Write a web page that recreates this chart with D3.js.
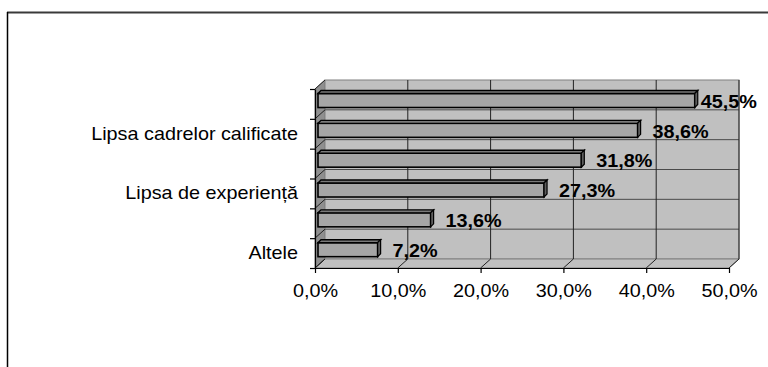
<!DOCTYPE html>
<html>
<head>
<meta charset="utf-8">
<script src="https://cdn.jsdelivr.net/npm/d3@7/dist/d3.min.js"></script>
<style>
  html, body { margin: 0; padding: 0; background: #fff; }
  svg { display: block; font-family: "Liberation Sans", Arial, sans-serif; }
</style>
</head>
<body>
<div id="chart"></div>
<script>
// Categories, top to bottom (Excel only printed every other label)
const categories = ['', 'Lipsa cadrelor calificate', '', 'Lipsa de experiență', '', 'Altele'];
const values = [45.5, 38.6, 31.8, 27.3, 13.6, 7.2];
const xTicks = [0, 10, 20, 30, 40, 50];

const width = 768;
const height = 367;
const DX = 10, DY = -9;      // depth of the 3D walls
const BDX = 3, BDY = -3;     // depth of the bars
const TEXT_SX = 1.1;         // horizontal stretch of the original text

const fmt = v => d3.format('.1f')(v).replace('.', ',') + '%';

const svg = d3.select('#chart')
  .append('svg')
  .attr('width', width)
  .attr('height', height);

// outer frame (runs off the right and bottom edges)
svg.append('line')
  .attr('x1', 7).attr('x2', width).attr('y1', 12.5).attr('y2', 12.5)
  .attr('stroke', '#3a3a3a').attr('stroke-width', 2);
svg.append('line')
  .attr('x1', 7.5).attr('x2', 7.5).attr('y1', 12).attr('y2', height)
  .attr('stroke', '#000').attr('stroke-width', 1.5);

const x = d3.scaleLinear().domain([0, 50]).range([315, 729]);
const y = d3.scaleBand().domain(d3.range(values.length)).range([89, 268]);
const yEdge = d3.scaleLinear().domain([0, values.length]).range([89, 268]);

const x0 = x(0), x1 = x(50);
const yTop = yEdge(0), yBottom = yEdge(values.length);

const walls = svg.append('g').attr('class', 'walls');

// left wall
walls.append('path')
  .attr('d', `M${x0},${yTop}L${x0 + DX},${yTop + DY}L${x0 + DX},${yBottom + DY}L${x0},${yBottom}Z`)
  .attr('fill', '#8f8f8f').attr('stroke', '#808080');

// back wall
walls.append('rect')
  .attr('x', x0 + DX).attr('y', yTop + DY)
  .attr('width', x1 - x0).attr('height', yBottom - yTop)
  .attr('fill', '#c0c0c0').attr('stroke', '#808080');

// floor
walls.append('path')
  .attr('d', `M${x0},${yBottom}L${x0 + DX},${yBottom + DY}L${x1 + DX},${yBottom + DY}L${x1},${yBottom}Z`)
  .attr('fill', '#c0c0c0').attr('stroke', '#808080');

// horizontal gridlines at category boundaries (back wall + left wall)
const edges = d3.range(values.length + 1);
walls.selectAll('line.hgrid')
  .data(edges.slice(1, -1))
  .enter().append('line')
  .attr('class', 'hgrid')
  .attr('x1', x0 + DX).attr('x2', x1 + DX)
  .attr('y1', d => yEdge(d) + DY).attr('y2', d => yEdge(d) + DY)
  .attr('stroke', '#4a4a4a').attr('stroke-width', 1);
walls.selectAll('line.lwall')
  .data(edges)
  .enter().append('line')
  .attr('class', 'lwall')
  .attr('x1', x0).attr('x2', x0 + DX)
  .attr('y1', d => yEdge(d)).attr('y2', d => yEdge(d) + DY)
  .attr('stroke', '#222').attr('stroke-width', 1);

// vertical gridlines (back wall + floor)
walls.selectAll('line.vgrid')
  .data(xTicks.slice(1))
  .enter().append('line')
  .attr('class', 'vgrid')
  .attr('x1', d => x(d) + DX).attr('x2', d => x(d) + DX)
  .attr('y1', yTop + DY).attr('y2', yBottom + DY)
  .attr('stroke', '#222').attr('stroke-width', 1);
walls.selectAll('line.fgrid')
  .data(xTicks)
  .enter().append('line')
  .attr('class', 'fgrid')
  .attr('x1', d => x(d) + DX).attr('x2', d => x(d))
  .attr('y1', yBottom + DY).attr('y2', yBottom)
  .attr('stroke', '#222').attr('stroke-width', 1);

// bars
const bars = svg.append('g').attr('class', 'bars')
  .selectAll('g.bar')
  .data(values)
  .enter().append('g')
  .attr('class', 'bar');

const barH = 14;
const yc = (d, i) => y(i) + y.bandwidth() / 2 - 3.4;
const bx0 = x0 + 3;

bars.append('rect')
  .attr('x', bx0)
  .attr('y', (d, i) => yc(d, i) - barH / 2)
  .attr('width', d => x(d) - x0)
  .attr('height', barH)
  .attr('fill', '#a6a6a6').attr('stroke', '#000').attr('stroke-width', 1.6);

bars.append('path')
  .attr('d', (d, i) => {
    const t = yc(d, i) - barH / 2, xe = x(d) + 3;
    return `M${bx0},${t}L${bx0 + BDX},${t + BDY}L${xe + BDX},${t + BDY}L${xe},${t}Z`;
  })
  .attr('fill', '#7a7a7a').attr('stroke', '#000').attr('stroke-width', 1.4);

bars.append('path')
  .attr('d', (d, i) => {
    const t = yc(d, i) - barH / 2, b = yc(d, i) + barH / 2, xe = x(d) + 3;
    return `M${xe},${t}L${xe + BDX},${t + BDY}L${xe + BDX},${b + BDY}L${xe},${b}Z`;
  })
  .attr('fill', '#5e5e5e').attr('stroke', '#000').attr('stroke-width', 1.2);

// value labels
bars.append('g')
  .attr('class', 'vlabel')
  .each(function(d, i) {
    const g = d3.select(this);
    const t = g.append('text')
      .attr('font-size', 18)
      .attr('font-weight', 'bold')
      .attr('dy', '0.35em')
      .attr('fill', '#000')
      .text(fmt(d));
    const w = t.node().getComputedTextLength() * TEXT_SX;
    const lx = Math.min(x(d) + 3 + BDX + 12, 757 - w);
    g.attr('transform', `translate(${lx},${yc(d, i) + 1}) scale(${TEXT_SX},1)`);
  });

// bottom axis
const xAxis = svg.append('g')
  .attr('transform', `translate(0,${yBottom})`)
  .call(d3.axisBottom(x).tickValues(xTicks).tickFormat(fmt)
    .tickSize(5).tickSizeOuter(0).tickPadding(11));
xAxis.select('.domain').attr('stroke', '#000').attr('stroke-width', 1.2);
xAxis.selectAll('.tick line').attr('stroke', '#000').attr('stroke-width', 1.2);
xAxis.selectAll('.tick text')
  .attr('font-size', 18).attr('font-family', null).attr('fill', '#000')
  .attr('transform', `scale(${TEXT_SX},1)`);

// left axis: line and boundary ticks
const yAxisLine = svg.append('g')
  .attr('transform', `translate(${x0},0)`)
  .call(d3.axisLeft(yEdge).tickValues(edges).tickFormat('')
    .tickSize(5).tickSizeOuter(0));
yAxisLine.select('.domain').attr('stroke', '#000').attr('stroke-width', 1.2);
yAxisLine.selectAll('.tick line').attr('stroke', '#000').attr('stroke-width', 1.2);

// left axis: category labels at band centres
const yAxisLabels = svg.append('g')
  .attr('transform', `translate(${x0},0)`)
  .call(d3.axisLeft(y).tickFormat(i => categories[i]).tickSize(0).tickPadding(15.5));
yAxisLabels.select('.domain').remove();
yAxisLabels.selectAll('.tick text')
  .attr('font-size', 18).attr('font-family', null).attr('fill', '#000')
  .attr('transform', `scale(${TEXT_SX},1)`);
</script>
</body>
</html>
